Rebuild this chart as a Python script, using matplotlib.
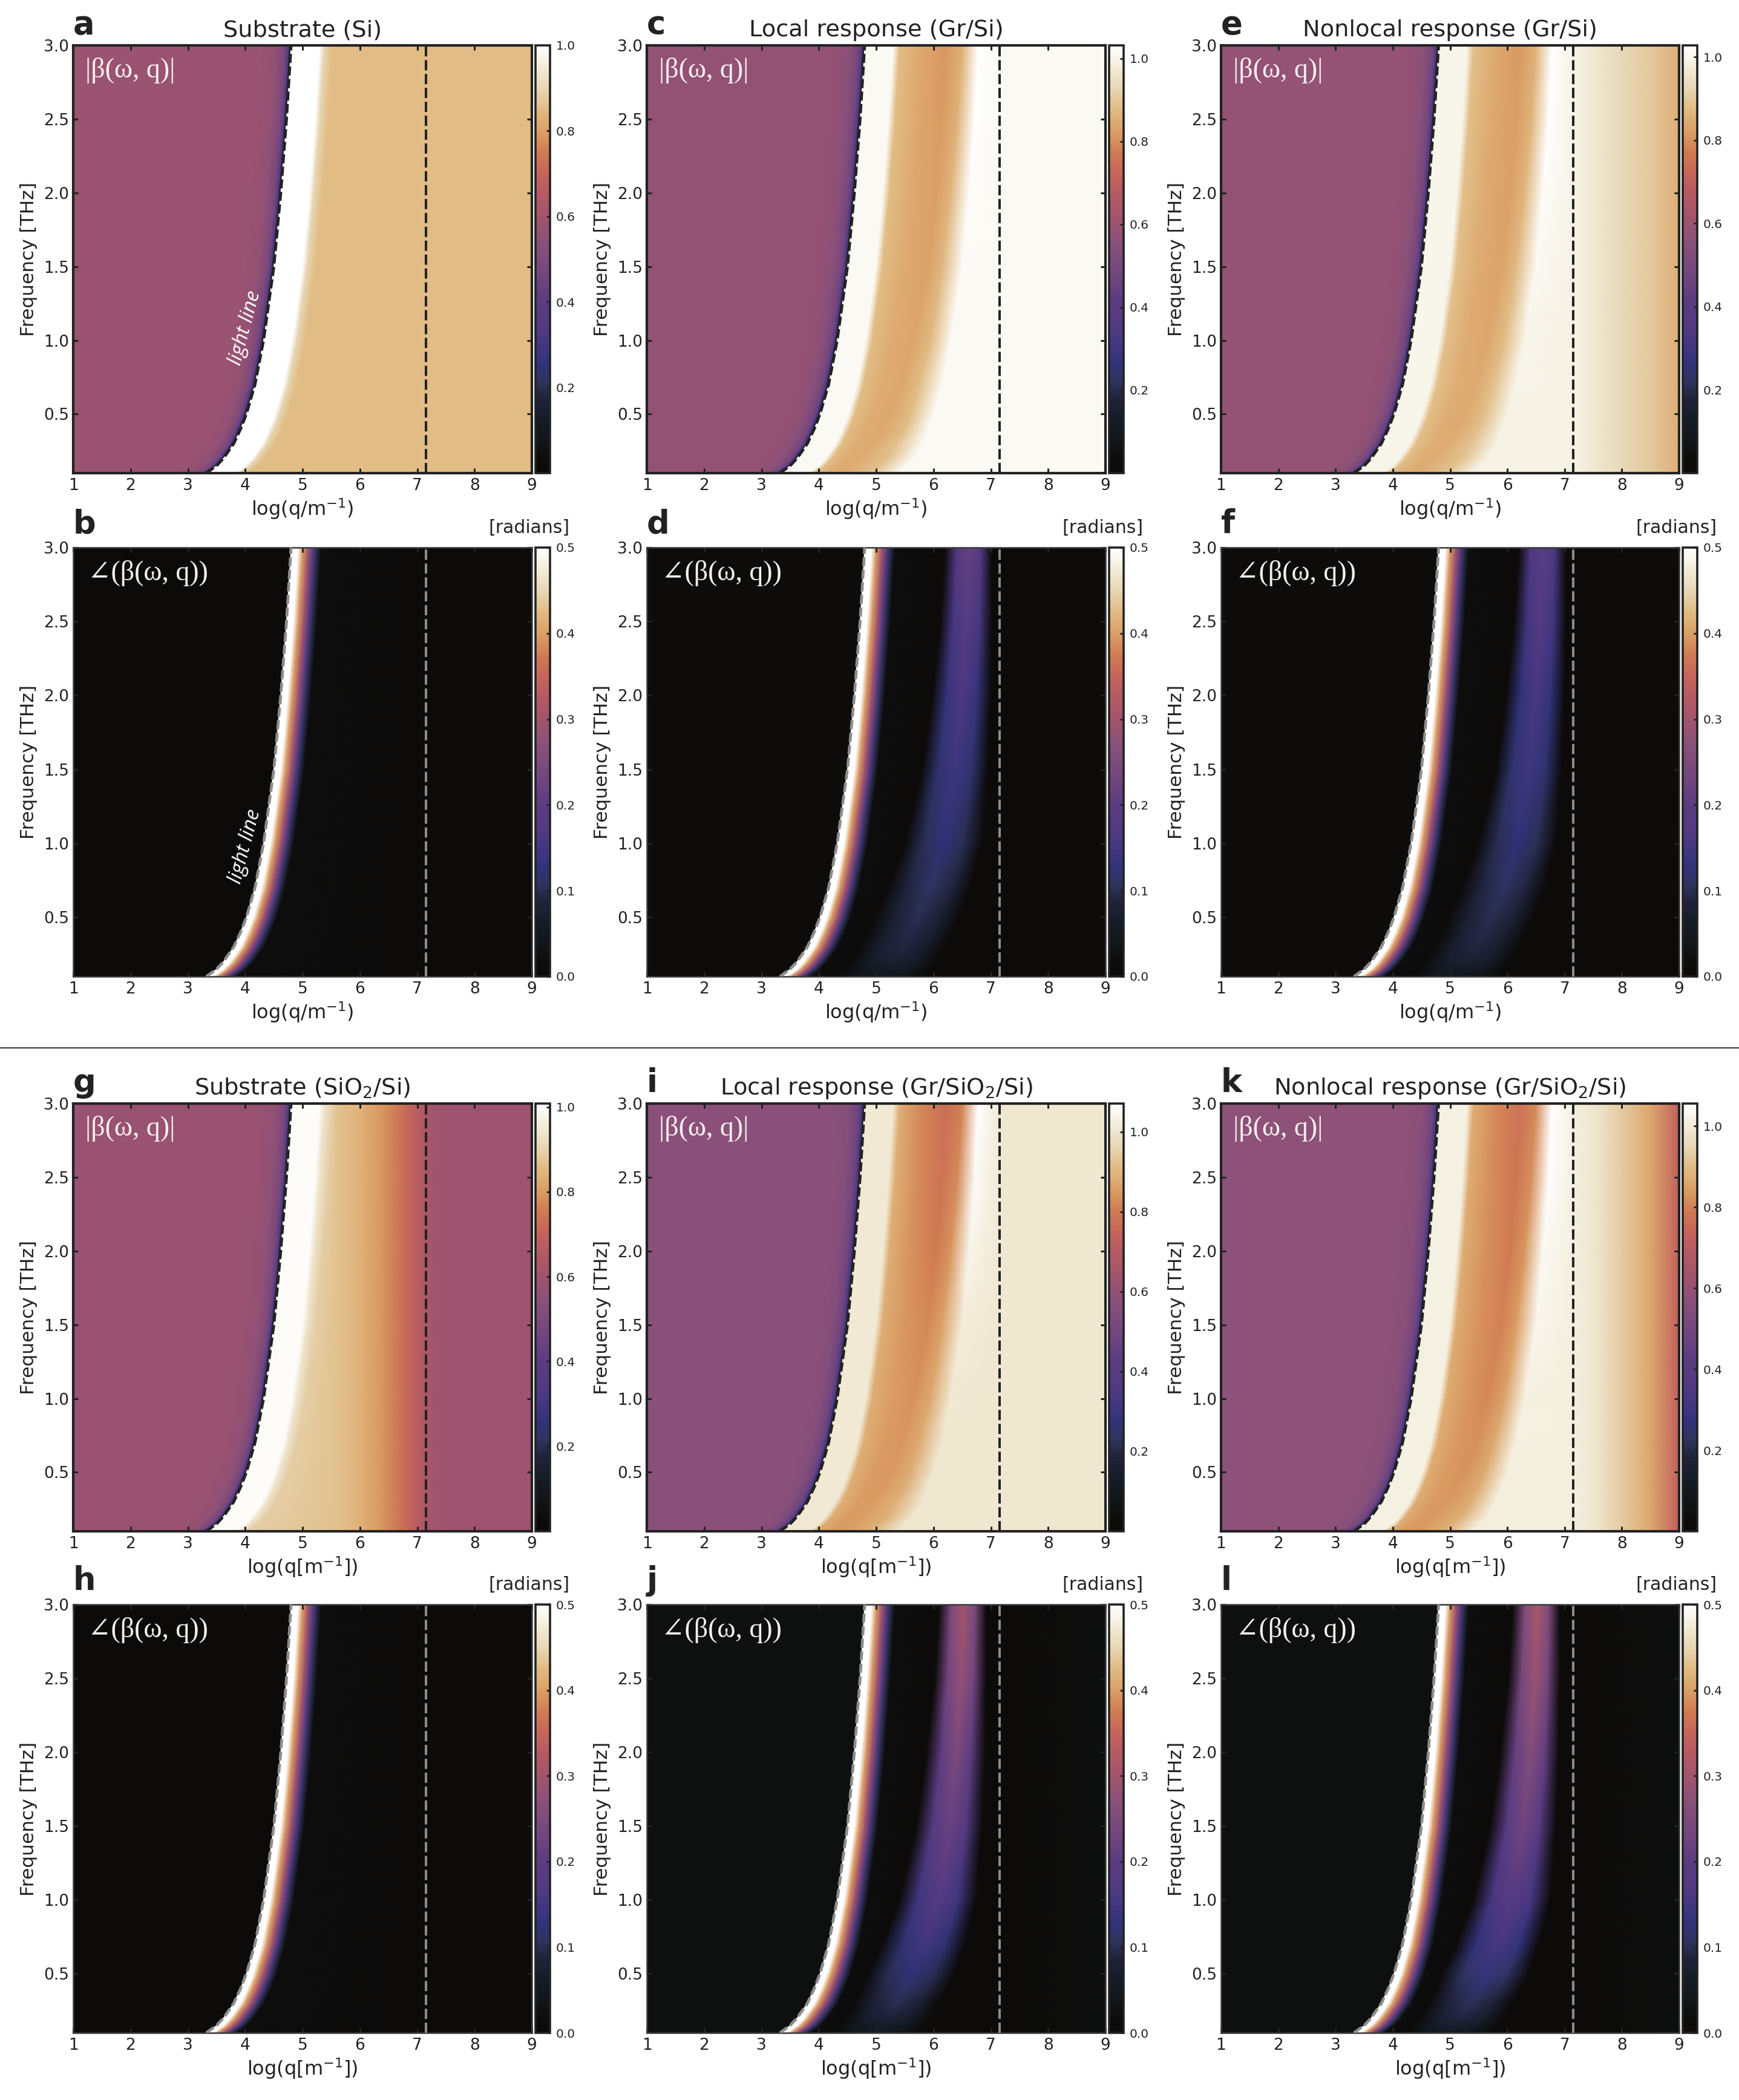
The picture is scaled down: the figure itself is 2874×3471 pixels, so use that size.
import numpy as np
import matplotlib
matplotlib.use("Agg")
import matplotlib.pyplot as plt
from matplotlib.colors import LinearSegmentedColormap, Normalize

W, H = 2874, 3471
DARK = "#222222"

# colormap (relative position, colour)
CMAP_STOPS = [(0.0, "#0b0a09"), (0.03, "#0d0c0b"), (0.075, "#111618"), (0.122, "#141c26"),
              (0.17, "#1e2238"), (0.216, "#30345f"), (0.254, "#30327a"), (0.287, "#3e3680"),
              (0.34, "#523a82"), (0.40, "#5a3c80"), (0.45, "#6e4480"), (0.536, "#88507a"),
              (0.60, "#a3546c"), (0.65, "#b45a64"), (0.70, "#c6645a"), (0.748, "#d07a52"),
              (0.795, "#da9c62"), (0.852, "#e1bc84"), (0.904, "#e8d8b8"), (0.95, "#f2ecd8"),
              (1.0, "#ffffff")]

# frequency rows [THz] and the curves read along them, log10(q)
FREQ = [0.1, 0.15, 0.2, 0.3, 0.4, 0.5, 0.7, 1.0, 1.5, 2.0, 2.5, 3.0]
LIGHT = [3.32, 3.50, 3.62, 3.80, 3.92, 4.02, 4.17, 4.32, 4.50, 4.62, 4.72, 4.80]
SI_LINE = [3.85, 4.03, 4.15, 4.33, 4.45, 4.55, 4.70, 4.85, 5.03, 5.15, 5.25, 5.33]
MAG_M3 = [4.40, 4.55, 4.70, 4.95, 5.10, 5.25, 5.45, 5.65, 5.90, 6.05, 6.15, 6.22]
MAG_M4 = [4.90, 5.05, 5.20, 5.35, 5.50, 5.60, 5.75, 5.95, 6.15, 6.30, 6.42, 6.50]
MAG_M5 = [5.40, 5.50, 5.65, 5.80, 5.90, 6.00, 6.15, 6.30, 6.50, 6.62, 6.72, 6.78]
PH_P1 = [4.30, 4.45, 4.55, 4.70, 4.85, 4.95, 5.20, 5.50, 5.80, 5.98, 6.12, 6.20]
PH_P3 = [5.05, 5.20, 5.30, 5.45, 5.60, 5.72, 5.95, 6.17, 6.38, 6.50, 6.58, 6.62]
PH_P5 = [5.85, 5.95, 6.05, 6.20, 6.35, 6.47, 6.65, 6.85, 6.95, 7.00, 7.02, 7.02]
THICKNESS_Q = 7.15

# offsets of the columns from the light line, read on the panels
MAG_LEFT_OFF = [-1.2, -0.5, -0.25, -0.1, -0.04, -0.012]
MAG_LEFT_VAL = [0.58, 0.58, 0.56, 0.48, 0.34, 0.06]
PH_CORE_OFF = [0.004, 0.12, 0.20, 0.30, 0.38, 0.45, 0.53]
PH_CORE_VAL = [0.50, 0.50, 0.40, 0.30, 0.20, 0.10, 0.02]

SUB_X = [5.6, 6.0, 6.4, 6.7, 6.95, 7.15, 7.35, 7.6, 9.0]
GR_X = [7.2, 7.6, 8.0, 8.5, 9.0]

# panel a, g: wedge + right part
A_WEDGE = [1.0, 1.0, 0.90, 0.85]
A_RIGHT = [0.85, 0.85, 0.85, 0.85, 0.85, 0.85, 0.85, 0.85, 0.85]
G_WEDGE = [1.0, 1.0, 0.94, 0.89]
G_RIGHT = [0.87, 0.84, 0.79, 0.74, 0.68, 0.63, 0.60, 0.595, 0.595]

# graphene magnitude panels: wedge value, band centre by frequency, post-band by frequency, right part
C_WEDGE = 1.015
C_BAND = [0.845, 0.845, 0.845, 0.845, 0.84, 0.84, 0.84, 0.835, 0.83, 0.825, 0.82, 0.815]
C_POST = [1.015, 1.015, 1.015, 1.015, 1.015, 1.015, 1.015, 1.015, 1.02, 1.025, 1.03, 1.03]
C_RIGHT = [1.015, 1.015, 1.015, 1.015, 1.015]

E_WEDGE = 1.0
E_BAND = [0.845, 0.845, 0.845, 0.845, 0.84, 0.84, 0.84, 0.835, 0.83, 0.825, 0.82, 0.815]
E_POST = [0.99, 0.99, 0.99, 0.99, 0.99, 0.99, 1.0, 1.0, 1.01, 1.02, 1.03, 1.03]
E_RIGHT = [0.99, 0.96, 0.93, 0.90, 0.85]

I_WEDGE = 1.01
I_BAND = [0.85, 0.85, 0.85, 0.85, 0.845, 0.845, 0.84, 0.835, 0.82, 0.80, 0.785, 0.77]
I_POST = [1.005, 1.005, 1.005, 1.005, 1.005, 1.005, 1.005, 1.01, 1.02, 1.04, 1.06, 1.07]
I_RIGHT = [1.005, 1.005, 1.005, 1.005, 1.005]

K_WEDGE = 1.015
K_BAND = [0.835, 0.835, 0.835, 0.83, 0.83, 0.825, 0.82, 0.81, 0.80, 0.79, 0.78, 0.77]
K_POST = [1.01, 1.01, 1.01, 1.01, 1.01, 1.01, 1.015, 1.015, 1.03, 1.04, 1.05, 1.055]
K_RIGHT = [1.01, 0.98, 0.93, 0.86, 0.72]

# phase panels: band centre by frequency
D_BAND = [0.05, 0.065, 0.08, 0.09, 0.095, 0.10, 0.11, 0.125, 0.145, 0.165, 0.19, 0.215]
F_BAND = [0.05, 0.065, 0.08, 0.09, 0.095, 0.10, 0.11, 0.125, 0.145, 0.16, 0.18, 0.20]
J_BAND = [0.055, 0.07, 0.085, 0.10, 0.115, 0.125, 0.15, 0.18, 0.22, 0.25, 0.28, 0.30]
L_BAND = [0.055, 0.075, 0.09, 0.105, 0.12, 0.135, 0.16, 0.19, 0.23, 0.26, 0.29, 0.31]

BG_B, BG_D, BG_J = 0.004, 0.012, 0.022

VMAX_A, VMAX_C, VMAX_E = 1.0, 1.032, 1.028
VMAX_G, VMAX_I, VMAX_K = 1.008, 1.071, 1.056
VMAX_PH = 0.5

MAG_TICKS = [0.2, 0.4, 0.6, 0.8, 1.0]
PH_TICKS = [0.0, 0.1, 0.2, 0.3, 0.4, 0.5]
X_TICKS = [1, 2, 3, 4, 5, 6, 7, 8, 9]
Y_TICKS = [0.5, 1.0, 1.5, 2.0, 2.5, 3.0]

COLS = [(121, 879), (1069, 1827), (2018, 2775)]
ROWS = [(75, 782), (905, 1614), (1824, 2531), (2652, 3360)]

plt.rcParams["font.family"] = "DejaVu Sans"
plt.rcParams["mathtext.default"] = "regular"
fig = plt.figure(figsize=(W / 100, H / 100), dpi=100)
cmap = LinearSegmentedColormap.from_list("beta", CMAP_STOPS, N=512)
SERIF = ["Liberation Serif", "DejaVu Serif"]

L = np.array(LIGHT)
S = np.array(SI_LINE)
F = np.array(FREQ)
nrow = len(F)


def fx(px):
    return px / W


def fy(py):
    return 1 - py / H


def mag_arrays(kind, wedge, band=None, post=None, right=None):
    xs = [np.full(nrow, 1.0)] + [L + o for o in MAG_LEFT_OFF]
    vs = [np.full(nrow, MAG_LEFT_VAL[0])] + [np.full(nrow, v) for v in MAG_LEFT_VAL]
    if kind == "sub":
        wx = [L + 0.004, S - 0.03, S + 0.05, S + 0.2]
        for x, v in zip(wx, wedge):
            xs.append(x)
            vs.append(np.full(nrow, v))
        for x, v in zip(SUB_X, right):
            xs.append(np.full(nrow, x))
            vs.append(np.full(nrow, v))
    else:
        band = np.array(band)
        post = np.array(post)
        m1 = S + 0.08
        m3 = np.array(MAG_M3)
        edge = band[0] + 0.035
        xs += [L + 0.004, S - 0.03, m1, (m1 + m3) / 2, m3, np.array(MAG_M4), np.array(MAG_M5)]
        vs += [np.full(nrow, wedge), np.full(nrow, wedge), np.full(nrow, edge),
               (edge + band) / 2 - 0.01, band, band + 0.04, post]
        for x, v in zip(GR_X, right):
            xs.append(np.full(nrow, x))
            vs.append(np.full(nrow, v))
    return np.array(xs).T, np.array(vs).T


def ph_arrays(bg, band=None, shift=0.0):
    xs = [np.full(nrow, 1.0), L - 0.1, L - 0.012]
    vs = [np.full(nrow, bg), np.full(nrow, bg), np.full(nrow, bg + 0.008)]
    for o, v in zip(PH_CORE_OFF, PH_CORE_VAL):
        xs.append(L + o)
        vs.append(np.full(nrow, v))
    if band is not None:
        band = np.array(band)
        p1, p3, p5 = np.array(PH_P1), np.array(PH_P3), np.array(PH_P5)
        p1 = p1 + shift
        p3 = p3 + shift
        p5 = p5 + shift
        xs += [p1, (p1 + p3) / 2, p3, (p3 + p5) / 2, p5, np.full(nrow, 7.3)]
        vs += [np.full(nrow, 0.006), 0.82 * band, band, 0.82 * band,
               np.full(nrow, 0.006), np.full(nrow, 0.006)]
    else:
        xs.append(np.full(nrow, 7.0))
        vs.append(np.full(nrow, bg))
    xs.append(np.full(nrow, 9.0))
    vs.append(np.full(nrow, bg))
    return np.array(xs).T, np.array(vs).T


def panel(col, row, letter, X, C, vmax, is_mag, xlabel, title=None, annot=None, ll_label=False):
    x0, x1 = COLS[col]
    y0, y1 = ROWS[row]
    ax = fig.add_axes([fx(x0), fy(y1), (x1 - x0) / W, (y1 - y0) / H])
    Y = np.tile(F[:, None], (1, X.shape[1]))
    norm = Normalize(0, vmax)
    mesh = ax.pcolormesh(X, Y, C, shading="gouraud", cmap=cmap, norm=norm)
    ax.set_xlim(1, 9)
    ax.set_ylim(0.1, 3.0)
    ax.set_xticks(X_TICKS)
    ax.set_yticks(Y_TICKS)
    line_col = DARK if is_mag else "#8c8c8c"
    ax.plot(LIGHT, FREQ, color=line_col, lw=3.4, dashes=(3.2, 1.2), zorder=5)
    ax.axvline(THICKNESS_Q, color=line_col, lw=2.9, dashes=(4.2, 1.5), zorder=5)
    frame = DARK if is_mag else "#3a3a3a"
    flw = 3.0 if is_mag else 1.8
    for s in ax.spines.values():
        s.set_color(frame)
        s.set_linewidth(flw)
    ax.tick_params(direction="in", top=True, right=True, length=5.5, width=2.2, color=DARK,
                   labelsize=19, labelcolor=DARK, pad=6)
    ax.tick_params(axis="y", pad=5)
    # colourbar
    cax = fig.add_axes([fx(x1 + 6), fy(y1), 24 / W, (y1 - y0) / H])
    cb = fig.colorbar(mesh, cax=cax)
    cb.set_ticks(MAG_TICKS if is_mag else PH_TICKS)
    cb.ax.set_yticklabels(["%.1f" % t for t in (MAG_TICKS if is_mag else PH_TICKS)])
    cb.outline.set_edgecolor(DARK)
    cb.outline.set_linewidth(2.6)
    cax.tick_params(direction="in", length=4.5, width=2.0, color=DARK, labelsize=14.5,
                    labelcolor=DARK, pad=7)
    # labels
    cx = (x0 + x1) / 2
    fig.text(fx(cx), fy(y1 + 59), xlabel, fontsize=23, color=DARK, ha="center", va="center")
    fig.text(fx(x0 - 73), fy((y0 + y1) / 2), "Frequency [THz]", fontsize=22.5, color=DARK,
             rotation=90, ha="center", va="center")
    if title:
        fig.text(fx(cx), fy(y0 - 25), title, fontsize=27.5, color=DARK, ha="center", va="center")
    base = y0 - (19 if is_mag else 24)
    fig.text(fx(x0), fy(base), letter, fontsize=38, fontweight="bold", family="DejaVu Sans",
             color=DARK, ha="left", va="baseline")
    if not is_mag:
        fig.text(fx(x1 + 62), fy(y0 - 33), "[radians]", fontsize=21.5, color=DARK, ha="right", va="center")
    if annot:
        dx, dy = (20, 42) if is_mag else (24, 42)
        fig.text(fx(x0 + dx), fy(y0 + dy), annot, fontsize=33, family=SERIF, color="#f4f0ec",
                 ha="left", va="center", zorder=10)
    if ll_label:
        fig.text(fx(x0 + 284), fy(y0 + 467 if is_mag else y0 + 494), "light line", fontsize=24,
                 family="Open Sans", style="italic", color="white", rotation=75,
                 ha="center", va="center", zorder=10)
    return ax


MAG = "|β(ω, q)|"
PH = "∠(β(ω, q))"
XL1 = r"log(q/m$^{-1}$)"
XL2 = r"log(q[m$^{-1}$])"

X, C = mag_arrays("sub", A_WEDGE, right=A_RIGHT)
panel(0, 0, "a", X, C, VMAX_A, True, XL1, "Substrate (Si)", MAG, True)
X, C = ph_arrays(BG_B)
panel(0, 1, "b", X, C, VMAX_PH, False, XL1, None, PH, True)
X, C = mag_arrays("gr", C_WEDGE, C_BAND, C_POST, C_RIGHT)
panel(1, 0, "c", X, C, VMAX_C, True, XL1, "Local response (Gr/Si)", MAG)
X, C = ph_arrays(BG_D, D_BAND)
panel(1, 1, "d", X, C, VMAX_PH, False, XL1, None, PH)
X, C = mag_arrays("gr", E_WEDGE, E_BAND, E_POST, E_RIGHT)
panel(2, 0, "e", X, C, VMAX_E, True, XL1, "Nonlocal response (Gr/Si)", MAG)
X, C = ph_arrays(BG_D, F_BAND)
panel(2, 1, "f", X, C, VMAX_PH, False, XL1, None, PH)

X, C = mag_arrays("sub", G_WEDGE, right=G_RIGHT)
panel(0, 2, "g", X, C, VMAX_G, True, XL2, r"Substrate (SiO$_2$/Si)", MAG)
X, C = ph_arrays(BG_B)
panel(0, 3, "h", X, C, VMAX_PH, False, XL2, None, PH)
X, C = mag_arrays("gr", I_WEDGE, I_BAND, I_POST, I_RIGHT)
panel(1, 2, "i", X, C, VMAX_I, True, XL2, r"Local response (Gr/SiO$_2$/Si)", MAG)
X, C = ph_arrays(BG_J, J_BAND, -0.1)
panel(1, 3, "j", X, C, VMAX_PH, False, XL2, None, PH)
X, C = mag_arrays("gr", K_WEDGE, K_BAND, K_POST, K_RIGHT)
panel(2, 2, "k", X, C, VMAX_K, True, XL2, r"Nonlocal response (Gr/SiO$_2$/Si)", MAG)
X, C = ph_arrays(BG_J, L_BAND, -0.1)
panel(2, 3, "l", X, C, VMAX_PH, False, XL2, None, PH)

fig.add_artist(plt.Line2D([0, 1], [fy(1732), fy(1732)], color="#333333", lw=1.4))

fig.savefig("out.png", dpi=100)
